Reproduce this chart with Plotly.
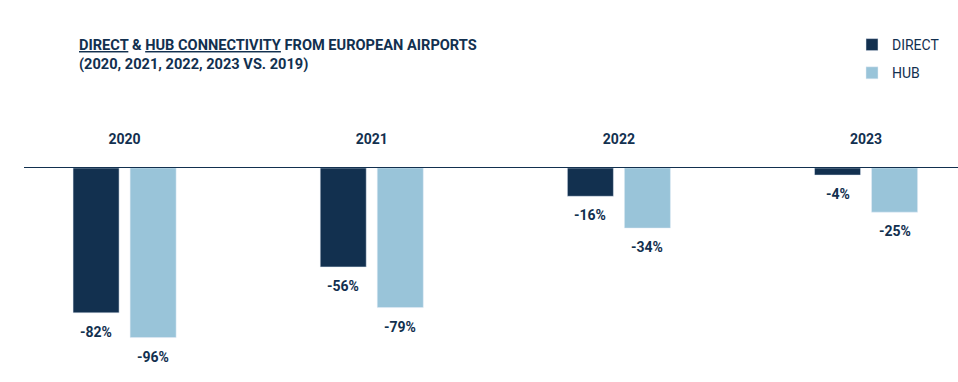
import plotly.graph_objects as go

years = ["2020", "2021", "2022", "2023"]
direct = [-82, -56, -16, -4]
hub = [-96, -79, -34, -25]

NAVY = "#12304f"
LIGHT = "#99c4d9"
FONT = "Roboto"

fig = go.Figure()
fig.add_trace(go.Bar(
    x=years, y=direct, name="DIRECT", marker_color=NAVY, legendgroup="a",
))
fig.add_trace(go.Bar(
    x=years, y=hub, name="HUB", marker_color=LIGHT, legendgroup="b",
))

# value labels below each bar (category index on the category axis)
for series, shift in ((direct, -28.5), (hub, 28.5)):
    for i, v in enumerate(series):
        fig.add_annotation(
            x=i, y=v, text=f"{v}%", showarrow=False,
            xshift=shift, yshift=-9, yanchor="top",
            font=dict(family=FONT, size=14, color=NAVY, weight="bold"),
        )

fig.update_layout(
    width=958, height=382,
    paper_bgcolor="white", plot_bgcolor="white",
    margin=dict(l=24, r=0, t=168, b=2, autoexpand=False),
    barmode="group", bargap=0.5385, bargroupgap=0.193,
    font=dict(family=FONT, color=NAVY),
    title=dict(
        text="<b><u>DIRECT</u> & <u>HUB CONNECTIVITY</u> FROM EUROPEAN AIRPORTS<br>(2020, 2021, 2022, 2023 VS. 2019)</b>",
        xref="container", yref="container",
        x=79 / 958, xanchor="left", y=1 - 50 / 382, yanchor="top",
        font=dict(family=FONT, size=14.6, color=NAVY),
    ),
    legend=dict(
        xref="container", yref="container",
        x=852 / 958, xanchor="left", y=1 - 29 / 382, yanchor="top",
        font=dict(family=FONT, size=14, color=NAVY),
        traceorder="grouped", tracegroupgap=7,
        itemwidth=30,
    ),
    xaxis=dict(
        type="category", side="top", range=[-0.407, 3.372],
        showline=True, linecolor=NAVY, linewidth=1.2,
        showgrid=False, ticks="", ticklabelstandoff=17, automargin=False,
        tickfont=dict(family=FONT, size=14, color=NAVY, weight="bold"),
    ),
    yaxis=dict(
        range=[-120, 0], showgrid=False, zeroline=False, automargin=False,
        showticklabels=False, showline=False,
    ),
)

fig.write_html(
    "out.html",
    config={"displayModeBar": False},
    post_script="document.body.style.margin='0';document.body.style.padding='0';",
)
